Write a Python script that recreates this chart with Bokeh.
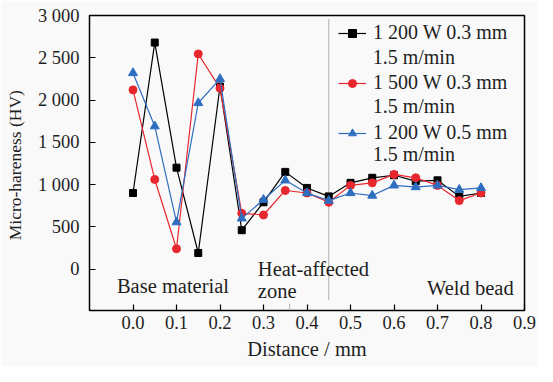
from bokeh.plotting import figure
from bokeh.models import (Legend, LegendItem, Label, FixedTicker, PrintfTickFormatter,
                          Range1d, ColumnDataSource)
from bokeh.embed import file_html
from bokeh.resources import INLINE

distance = [0.0, 0.05, 0.1, 0.15, 0.2, 0.25, 0.3, 0.35, 0.4, 0.45,
            0.5, 0.55, 0.6, 0.65, 0.7, 0.75, 0.8]
hv_1200w_03mm = [900, 2680, 1200, 190, 2160, 460, 790, 1150, 960, 860,
                 1020, 1080, 1110, 1040, 1050, 860, 900]
hv_1500w_03mm = [2120, 1060, 240, 2545, 2140, 660, 640, 930, 900, 790,
                 990, 1020, 1120, 1080, 990, 810, 900]
hv_1200w_05mm = [2320, 1690, 555, 1965, 2250, 600, 820, 1050, 900, 810,
                 900, 870, 990, 970, 990, 940, 960]
series_first_lines = ["1 200 W 0.3 mm", "1 500 W 0.3 mm", "1 200 W 0.5 mm"]
series_second_line = "1.5 m/min"
x_ticks = [0.0, 0.1, 0.2, 0.3, 0.4, 0.5, 0.6, 0.7, 0.8, 0.9]
y_ticks = [0, 500, 1000, 1500, 2000, 2500, 3000]
y_tick_labels = ["0", "500", "1 000", "1 500", "2 000", "2 500", "3 000"]
zone_labels = ["Base material", "Heat-affected", "zone", "Weld bead"]
x_title = "Distance / mm"
y_title = "Micro-hareness  (HV)"
weld_boundary_x = 0.45
haz_boundary_x = 0.36

FONT = "Liberation Serif"
BG = "#f9f9f9"
TXT = "#1e1e1e"

p = figure(width=537, height=366, output_backend="svg", toolbar_location=None,
           x_range=Range1d(-0.1, 0.9), y_range=Range1d(-490, 3000),
           min_border_left=89, min_border_right=13, min_border_top=15,
           min_border_bottom=56)
p.background_fill_color = BG
p.border_fill_color = BG
p.outline_line_color = "black"
p.outline_line_width = 1.5
p.grid.visible = False

# zone boundaries
p.segment(x0=[weld_boundary_x], y0=[-370], x1=[weld_boundary_x], y1=[2960],
          line_color="#b0b0b0", line_width=1)
p.segment(x0=[haz_boundary_x], y0=[-410], x1=[haz_boundary_x], y1=[-490],
          line_color="#b0b0b0", line_width=1)

colors = ["black", "#e8262e", "#2e6ec0"]
data = [hv_1200w_03mm, hv_1500w_03mm, hv_1200w_05mm]
markers = [("square", 7), ("circle", 8), ("triangle", 9)]
items = []
for i, (vals, c) in enumerate(zip(data, colors)):
    src = ColumnDataSource(dict(x=distance, y=vals))
    ln = p.line("x", "y", source=src, line_color=c, line_width=1.2)
    mk = p.scatter("x", "y", source=src, marker=markers[i][0], size=markers[i][1],
                   fill_color=c, line_color=c)
    items.append(LegendItem(label=series_first_lines[i], renderers=[ln, mk]))

legend = Legend(items=items, location=(249, 166), padding=0, margin=0,
                spacing=27, glyph_width=28, glyph_height=20, label_height=20,
                label_standoff=7,
                label_text_font=FONT, label_text_font_size="20px",
                label_text_color=TXT,
                background_fill_alpha=0, border_line_alpha=0)
p.add_layout(legend)

for yv in [2513, 1931, 1358]:
    p.add_layout(Label(x=0.551, y=yv, text=series_second_line, text_font=FONT,
                       text_font_size="20px", text_color=TXT,
                       text_baseline="middle"))

for txt, xv, yv in [(zone_labels[0], -0.037, -198), (zone_labels[1], 0.287, 0),
                    (zone_labels[2], 0.287, -257), (zone_labels[3], 0.676, -222)]:
    p.add_layout(Label(x=xv, y=yv, text=txt, text_font=FONT, text_font_size="20.5px",
                       text_color=TXT, text_baseline="middle"))

p.xaxis.ticker = FixedTicker(ticks=x_ticks)
p.xaxis.formatter = PrintfTickFormatter(format="%.1f")
p.yaxis.ticker = FixedTicker(ticks=y_ticks)
p.yaxis.major_label_overrides = {t: l for t, l in zip(y_ticks, y_tick_labels)}
for ax in (p.xaxis[0], p.yaxis[0]):
    ax.major_tick_in = 6
    ax.major_tick_out = 0
    ax.minor_tick_in = 0
    ax.minor_tick_out = 0
    ax.axis_line_color = None
    ax.major_tick_line_color = "black"
    ax.major_tick_line_width = 1.2
    ax.major_label_text_font = FONT
    ax.major_label_text_font_size = "18.5px"
    ax.major_label_text_color = TXT
    ax.axis_label_text_font = FONT
    ax.axis_label_text_font_style = "normal"
    ax.axis_label_text_color = TXT
p.yaxis.axis_label = y_title
p.yaxis.axis_label_text_font_size = "17.5px"
p.xaxis.axis_label = x_title
p.xaxis.axis_label_text_font_size = "20.5px"
p.xaxis.major_label_standoff = 5
p.xaxis.axis_label_standoff = 6
p.yaxis.major_label_standoff = 10
p.yaxis.axis_label_standoff = 10

open("out.html", "w").write(file_html(p, INLINE))
